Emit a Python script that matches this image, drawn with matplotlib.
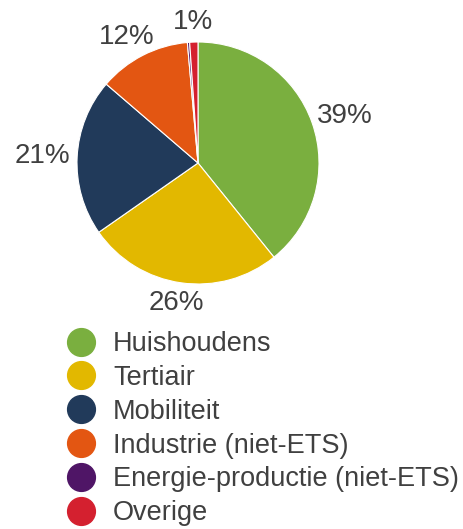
import matplotlib
matplotlib.use("Agg")
import matplotlib.pyplot as plt
from matplotlib.lines import Line2D
import numpy as np

plt.rcParams['font.family'] = ['Liberation Sans', 'DejaVu Sans']

# sectors (share of emissions, %)
categories = ['Huishoudens', 'Tertiair', 'Mobiliteit', 'Industrie (niet-ETS)',
              'Energie-productie (niet-ETS)', 'Overige']
shares = [39.2, 26.1, 21.0, 12.3, 0.3, 1.1]
pct_labels = ['39%', '26%', '21%', '12%', None, '1%']
colors = ['#7aaf3f', '#e2b800', '#213a5a', '#e35612', '#4f1566', '#d4202f']

txt_color = '#404040'

fig = plt.figure(figsize=(4.63, 5.29), dpi=100)
ax = fig.add_axes([77/463, 1-284/529, 242/463, 242/529])

wedges, _ = ax.pie(shares, colors=colors, startangle=90, counterclock=False,
                   radius=1, wedgeprops=dict(edgecolor='white', linewidth=0.8))
ax.set_xlim(-1, 1)
ax.set_ylim(-1, 1)
ax.set_aspect('equal')
ax.axis('off')

# percentage labels just outside the pie, nudged by their own size
fig.canvas.draw()
r = fig.canvas.get_renderer()
px_per_unit = ax.transData.transform((1, 0))[0] - ax.transData.transform((0, 0))[0]
for w, lab in zip(wedges, pct_labels):
    if lab is None:
        continue
    ang = np.deg2rad((w.theta1 + w.theta2) / 2)
    dx, dy = np.cos(ang), np.sin(ang)
    t = ax.text(dx * 1.06, dy * 1.06, lab, ha='center', va='center',
                fontsize=20, color=txt_color)
    bb = t.get_window_extent(renderer=r)
    tw = bb.width / px_per_unit
    th = bb.height / px_per_unit
    t.set_position((dx * 1.06 + tw / 2 * dx, dy * 1.06 + th / 2 * dy))

handles = [Line2D([], [], linestyle='none', marker='o', markersize=20,
                  markerfacecolor=c, markeredgecolor=c) for c in colors]
fig.legend(handles, categories, loc='upper left', bbox_to_anchor=(66/463, 1-331/529),
           frameon=False, borderaxespad=0, borderpad=0, fontsize=19.5,
           handlelength=1.1, handletextpad=0.64, labelspacing=0.29,
           labelcolor=txt_color)

fig.savefig('out.png', dpi=100)
